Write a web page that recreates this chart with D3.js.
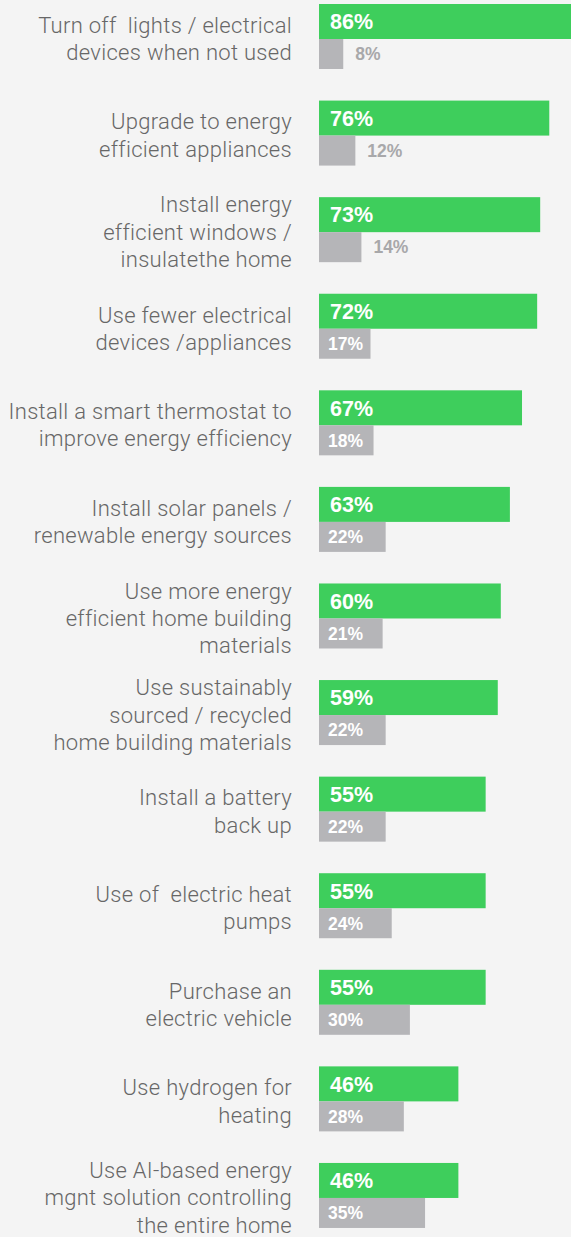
<!DOCTYPE html>
<html>
<head>
<meta charset="utf-8">
<script src="https://cdn.jsdelivr.net/npm/d3@7"></script>
<style>
  html, body { margin: 0; padding: 0; background: #f4f4f4; }
  svg { display: block; }
</style>
</head>
<body>
<div id="chart"></div>
<script>
// Energy-saving actions: share of respondents (green) vs. comparison group (grey)
const categories = [
  ["Turn off  lights / electrical", "devices when not used"],
  ["Upgrade to energy", "efficient appliances"],
  ["Install energy", "efficient windows /", "insulatethe home"],
  ["Use fewer electrical", "devices /appliances"],
  ["Install a smart thermostat to", "improve energy efficiency"],
  ["Install solar panels /", "renewable energy sources"],
  ["Use more energy", "efficient home building", "materials"],
  ["Use sustainably", "sourced / recycled", "home building materials"],
  ["Install a battery", "back up"],
  ["Use of  electric heat", "pumps"],
  ["Purchase an", "electric vehicle"],
  ["Use hydrogen for", "heating"],
  ["Use AI-based energy", "mgnt solution controlling", "the entire home"]
];
const primaryValues = [86, 76, 73, 72, 67, 63, 60, 59, 55, 55, 55, 46, 46];
const secondaryValues = [8, 12, 14, 17, 18, 22, 21, 22, 22, 24, 30, 28, 35];

const width = 571, height = 1237;
const greenH = 35, greyH = 30, pitch = 96.58, firstY = 4;

const svg = d3.select("#chart").append("svg")
  .attr("width", width).attr("height", height);

svg.append("rect").attr("width", width).attr("height", height).attr("fill", "#f4f4f4");

const x = d3.scaleLinear().domain([0, 100]).range([319, 622]);
const y = d3.scaleLinear().domain([0, categories.length - 1])
  .range([firstY, firstY + pitch * (categories.length - 1)]);

const groups = svg.selectAll("g.item")
  .data(categories.map((c, i) => ({ label: c, a: primaryValues[i], b: secondaryValues[i], i })))
  .join("g").attr("class", "item")
  .attr("transform", d => `translate(0,${y(d.i)})`);

// green bar + value
groups.append("rect")
  .attr("x", x(0)).attr("y", 0)
  .attr("width", d => x(d.a) - x(0)).attr("height", greenH)
  .attr("fill", "#3ece5c");

groups.append("text")
  .attr("x", x(0) + 11)
  .attr("y", greenH / 2 + 7.8)
  .attr("fill", "#ffffff")
  .attr("font-family", "'Liberation Sans', Arial, sans-serif")
  .attr("font-weight", "bold")
  .attr("font-size", 21.5)
  .text(d => d.a + "%");

// grey bar + value (inside when wide enough, otherwise after the bar)
groups.append("rect")
  .attr("x", x(0)).attr("y", greenH)
  .attr("width", d => x(d.b) - x(0)).attr("height", greyH)
  .attr("fill", "#b5b5b8");

groups.append("text")
  .attr("x", d => d.b >= 16 ? x(0) + 9 : x(d.b) + 12)
  .attr("y", greenH + greyH / 2 + 6.3)
  .attr("fill", d => d.b >= 16 ? "#ffffff" : "#a8a8aa")
  .attr("font-family", "'Liberation Sans', Arial, sans-serif")
  .attr("font-weight", "bold")
  .attr("font-size", 17.5)
  .text(d => d.b + "%");

// category labels, right-aligned
const lineH = 27.3;
groups.append("text")
  .attr("text-anchor", "end")
  .attr("fill", "#676767")
  .attr("font-family", "Roboto, 'Liberation Sans', sans-serif")
  .attr("font-weight", 300)
  .attr("font-size", 22)
  .attr("letter-spacing", 0.3)
  .attr("xml:space", "preserve")
  .each(function (d) {
    const n = d.label.length;
    const center = (greenH + greyH) / 2;
    d3.select(this).selectAll("tspan")
      .data(d.label)
      .join("tspan")
      .attr("x", 292)
      .attr("y", (t, k) => center + 10 + (k - (n - 1) / 2) * lineH)
      .text(t => t);
  });
</script>
</body>
</html>
